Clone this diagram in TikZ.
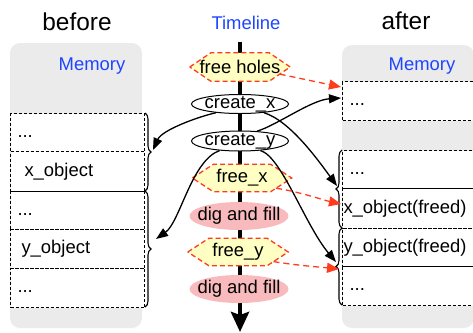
\documentclass[tikz,border=0pt]{standalone}
\usepackage{fontspec}
\setmainfont{Liberation Sans}
\usetikzlibrary{arrows.meta,decorations.pathreplacing,calc,shapes.geometric}
\definecolor{panelgray}{RGB}{235,235,235}
\definecolor{memblue}{RGB}{30,70,255}
\definecolor{hexred}{RGB}{255,60,30}
\definecolor{hexyellow}{RGB}{255,255,195}
\definecolor{digpink}{RGB}{248,186,188}
\newcommand\hexshape[1]{\filldraw[hexline] (#1.west) -- ([xshift=21bp]#1.north west) -- ([xshift=-21bp]#1.north east) -- (#1.east) -- ([xshift=-21bp]#1.south east) -- ([xshift=21bp]#1.south west) -- cycle;}
\begin{document}
\begin{tikzpicture}[x=1bp,y=-1bp,
  txt/.style={font=\fontsize{18.5}{20}\selectfont, inner sep=0},
  big/.style={font=\fontsize{24.5}{26}\selectfont, inner sep=0},
  mem/.style={txt, text=memblue},
  panel/.style={fill=panelgray, rounded corners=10bp},
  row/.style={draw, fill=white, dash pattern=on 3bp off 2bp, line width=1bp, rectangle, inner ysep=0,
    inner xsep=7bp, align=left, text height=13bp, text depth=4bp,
    font=\fontsize{18.5}{20}\selectfont, anchor=north west},
  lrow/.style={row, text width=120bp},
  rrow/.style={row, inner xsep=1bp, text width=136bp},
  brc/.style={decorate, decoration={brace, amplitude=6bp, aspect=0.5}, line width=1.1bp},
  hexline/.style={draw=hexred, fill=hexyellow, dash pattern=on 5bp off 3bp, line width=1.3bp},
  hexbox/.style={rectangle, inner sep=0, minimum width=100bp, minimum height=28bp},
  ell/.style={ellipse, inner sep=0},
  blk/.style={line width=1.3bp, -{Triangle[length=12bp,width=9bp]}},
  redarr/.style={draw=hexred, dash pattern=on 6bp off 4bp, line width=1.3bp,
    -{Triangle[length=12bp,width=10bp,fill=hexred]}}
]
\useasboundingbox (0,0) rectangle (473,332);

% panels
\fill[panel] (10,43) rectangle (142,328);
\fill[panel] (342,45) rectangle (474,328);

% titles
\node[big, anchor=base] (before) at (77,30) {before};
\node[big, anchor=base] (after) at (406,29) {after};
\node[mem, anchor=base] (tl) at (246,29) {Timeline};
\node[mem, anchor=base] (ml) at (92,70) {Memory};
\node[mem, anchor=base] (mr) at (422,70) {Memory};

% left memory rows
\node[lrow, minimum height=38bp] (l1) at (10,113) {...};
\node[lrow, minimum height=40bp] (l2) at (10,151) {\hspace{7bp}x\_object};
\node[lrow, minimum height=38bp] (l3) at (10,191) {...};
\node[lrow, minimum height=39bp] (l4) at (10,229) {\hspace{4bp}y\_object};
\node[lrow, minimum height=39bp] (l5) at (10,268) {...};
\draw[brc] (145,113) -- (145,191);
\draw[brc] (145,191) -- (145,307);

% right memory rows
\node[rrow, minimum height=39bp] (r0) at (342,81) {\hspace{6bp}...};
\node[rrow, minimum height=38bp] (r1) at (342,150) {\hspace{6bp}...};
\node[rrow, minimum height=40bp] (r2) at (342,188) {x\_object(freed)};
\node[rrow, minimum height=38bp] (r3) at (342,228) {y\_object(freed)};
\node[rrow, minimum height=39bp] (r4) at (342,266) {\hspace{6bp}...};
\draw[brc] (342,228) -- (342,150);
\draw[brc] (342,305) -- (342,228);

% timeline
\coordinate (tltop) at (240,42);
\coordinate (tlbot) at (240,332);
\draw[line width=4.5bp, -{Stealth[length=20bp,width=18bp,inset=3bp]}] (tltop) -- (tlbot);

% events
\node[hexbox] (fh) at (240,67) {};
\hexshape{fh}
\node[txt] (fht) at (fh) {free holes};

\node[ell, draw, line width=1bp, fill=white, minimum width=97bp, minimum height=19bp,
  label={[txt]center:create\_x}] (cx) at (240,104) {};
\node[ell, draw, line width=1bp, fill=white, minimum width=97bp, minimum height=20bp,
  label={[txt]center:create\_y}] (cy) at (240,141) {};

\node[hexbox, minimum width=99bp, minimum height=27bp] (fx) at (242,178) {};
\hexshape{fx}
\node[txt] (fxt) at (fx) {free\_x};

\node[ell, fill=digpink, minimum width=99bp, minimum height=28bp,
  label={[txt]center:dig and fill}] (d1) at (239,216) {};

\node[hexbox, minimum height=27bp] (fy) at (238,252) {};
\hexshape{fy}
\node[txt] (fyt) at (fy) {free\_y};

\node[ell, fill=digpink, minimum width=99bp, minimum height=28bp,
  label={[txt]center:dig and fill}] (d2) at (239,289) {};

% arrow ends
\coordinate (aL1) at (153,150);
\coordinate (aL2) at (156,239);
\coordinate (aR0a) at (341,87);
\coordinate (aR0b) at (341,98);
\coordinate (aR1) at (337,186);
\coordinate (aR2) at (341,204);
\coordinate (aR3) at (336,262);
\coordinate (aR4) at (339,269);

% black connectors
\draw[blk] (cx.200) .. controls +(-18,4) and +(9,-20) .. (aL1);
\draw[blk] (cy.205) .. controls +(-28,10) and +(24,-17) .. (aL2);
\draw[blk] (cy.30) .. controls +(20,-6) and +(-30,2) .. (aR0b);
\draw[blk] (cx.-20) .. controls +(26,8) and +(-19,-26) .. (aR1);
\draw[blk] (cy.-25) .. controls +(21,6) and +(-31,-37) .. (aR3);

% red connectors
\draw[redarr] ($(fh.east)!0.5!([xshift=-21bp]fh.south east)$) -- (aR0a);
\draw[redarr] ($(fx.east)!0.75!([xshift=-21bp]fx.south east)$) .. controls +(22,3) and +(-18,-4) .. (aR2);
\draw[redarr] ($(fy.east)!0.7!([xshift=-21bp]fy.south east)$) .. controls +(25,4) and +(-20,-2) .. (aR4);
\end{tikzpicture}
\end{document}
